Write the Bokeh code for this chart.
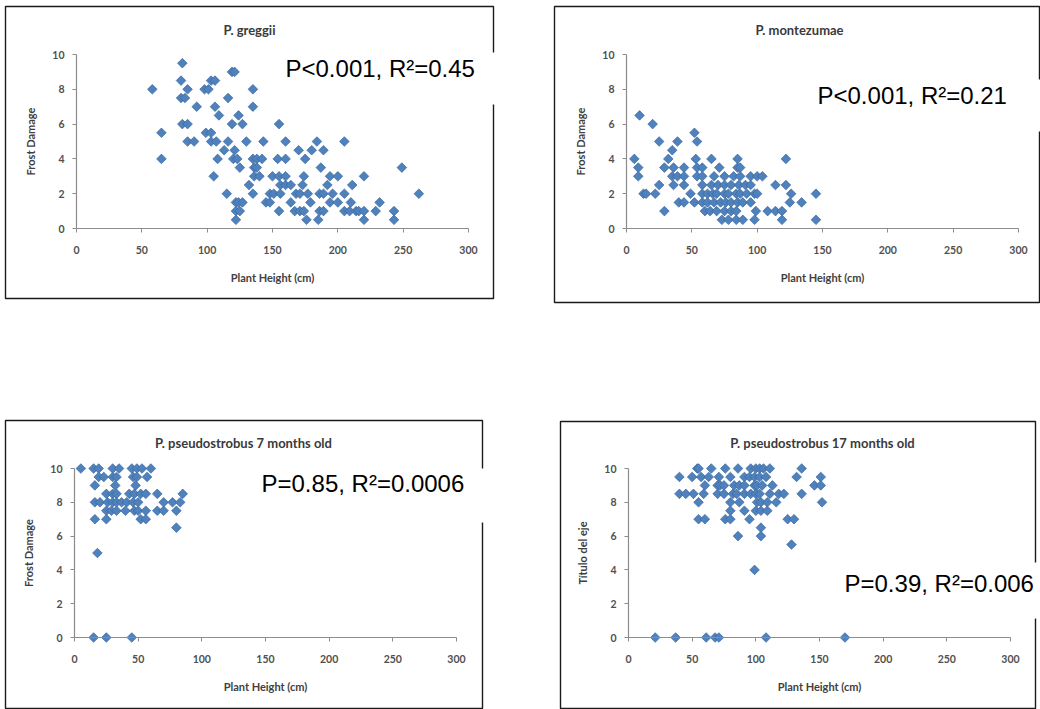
from bokeh.plotting import figure
from bokeh.models import Range1d, FixedTicker, Label, BoxAnnotation, ColumnDataSource
from bokeh.layouts import column, row
from bokeh.embed import file_html
from bokeh.resources import INLINE

# ---------------- data (plant height cm, frost damage) ----------------
greggii = [
    (58, 8), (65, 5.5), (65, 4), (81, 9.5), (80, 8.5), (80, 7.5), (83, 7.5), (85, 8), (81, 6), (85, 6),
    (85, 5), (90, 5), (92, 7), (98, 8), (101, 8), (103, 8.5), (106, 8.5), (99, 5.5), (103, 5.5), (103, 5),
    (107, 5), (106, 7), (109, 6.5), (108, 4), (105, 3), (116, 7.5), (119, 9), (121, 9), (119, 6), (116, 5),
    (113, 4.5), (120, 4), (121, 4.5), (115, 2), (124, 6.5), (127, 6), (130, 5), (123, 4), (125, 3.5), (122, 1.5),
    (124, 1.5), (122, 1), (125, 1), (122, 0.5), (127, 1.5), (135, 8), (135, 7), (132, 2.5), (135, 2), (135, 4),
    (138, 4), (142, 4), (136, 3.5), (138, 3.5), (136, 3), (140, 3), (143, 5), (145, 1.5), (148, 1.5), (148, 2),
    (151, 2), (150, 3), (155, 3), (155, 6), (154, 4), (160, 4), (156, 2.5), (160, 2.5), (160, 3), (156, 2),
    (155, 1), (160, 5), (164, 2.5), (164, 1.5), (167, 1), (171, 1), (170, 4.5), (168, 2), (171, 2), (173, 2.5),
    (174, 3), (175, 4), (174, 1), (176, 0.5), (177, 2), (179, 1.5), (180, 4.5), (184, 5), (186, 2), (185, 0.5),
    (187, 3.5), (186, 1), (189, 1), (189, 4.5), (189, 2), (192, 2.5), (194, 1.5), (194, 3), (200, 3), (196, 2),
    (200, 1.5), (205, 5), (205, 2), (205, 1), (209, 1), (211, 2.5), (210, 1.5), (214, 1), (216, 1), (220, 3),
    (220, 1), (220, 0.5), (229, 1), (232, 1.5), (243, 1), (243, 0.5), (249, 3.5), (262, 2),
]

montezumae = [
    (10, 6.5), (20, 6), (52, 5.5), (25, 5), (39, 5), (54, 5), (35, 4.5),
    (6, 4), (32, 4), (53, 4), (65, 4), (85, 4), (122, 4),
    (9, 3.5), (29, 3.5), (36, 3.5), (44, 3.5), (54, 3.5), (58, 3.5), (71, 3.5), (85, 3.5), (87, 3.5),
    (9, 3), (35, 3), (39, 3), (44, 3), (54, 3), (58, 3), (67, 3), (75, 3), (82, 3), (87, 3), (95, 3), (100, 3), (104, 3),
    (25, 2.5), (36, 2.5), (44, 2.5), (58, 2.5), (65, 2.5), (70, 2.5), (75, 2.5), (80, 2.5), (86, 2.5), (91, 2.5),
    (95, 2.5), (114, 2.5), (122, 2.5),
    (13, 2), (15, 2), (22, 2), (49, 2), (58, 2), (62, 2), (66, 2), (69, 2), (75, 2), (78, 2), (84, 2), (87, 2),
    (92, 2), (98, 2), (100, 2), (126, 2), (145, 2),
    (40, 1.5), (44, 1.5), (52, 1.5), (58, 1.5), (62, 1.5), (67, 1.5), (72, 1.5), (76, 1.5), (80, 1.5), (85, 1.5),
    (89, 1.5), (95, 1.5), (125, 1.5), (134, 1.5),
    (29, 1), (60, 1), (64, 1), (69, 1), (75, 1), (80, 1), (84, 1), (99, 1), (108, 1), (114, 1), (119, 1),
    (73, 0.5), (78, 0.5), (84, 0.5), (89, 0.5), (98, 0.5), (119, 0.5), (145, 0.5),
]

pseudo7 = [
    (5, 10), (15, 10), (19, 10), (30, 10), (35, 10), (45, 10), (49, 10), (53, 10), (60, 10),
    (19, 9.5), (23, 9.5), (30, 9.5), (33, 9.5), (46, 9.5), (49, 9.5), (57, 9.5),
    (16, 9), (32, 9), (48, 9),
    (25, 8.5), (30, 8.5), (33, 8.5), (43, 8.5), (47, 8.5), (52, 8.5), (56, 8.5), (65, 8.5), (85, 8.5),
    (16, 8), (20, 8), (26, 8), (30, 8), (33, 8), (37, 8), (41, 8), (46, 8), (50, 8), (70, 8), (77, 8), (83, 8),
    (25, 7.5), (29, 7.5), (33, 7.5), (40, 7.5), (47, 7.5), (50, 7.5), (56, 7.5), (65, 7.5), (70, 7.5), (80, 7.5),
    (16, 7), (25, 7), (52, 7), (56, 7),
    (80, 6.5), (18, 5),
    (15, 0), (25, 0), (45, 0),
]

pseudo17 = [
    (54, 10), (55, 10), (65, 10), (76, 10), (86, 10), (96, 10), (100, 10), (103, 10), (106, 10), (111, 10), (136, 10),
    (40, 9.5), (50, 9.5), (57, 9.5), (63, 9.5), (71, 9.5), (80, 9.5), (91, 9.5), (95, 9.5), (99, 9.5), (103, 9.5),
    (108, 9.5), (132, 9.5), (151, 9.5),
    (60, 9), (70, 9), (72, 9), (75, 9), (83, 9), (87, 9), (91, 9), (99, 9), (101, 9), (105, 9), (113, 9), (146, 9), (151, 9),
    (40, 8.5), (45, 8.5), (51, 8.5), (59, 8.5), (70, 8.5), (75, 8.5), (82, 8.5), (85, 8.5), (91, 8.5), (96, 8.5),
    (100, 8.5), (103, 8.5), (111, 8.5), (118, 8.5), (122, 8.5), (136, 8.5),
    (55, 8), (80, 8), (87, 8), (101, 8), (104, 8), (109, 8), (116, 8), (152, 8),
    (80, 7.5), (91, 7.5), (100, 7.5), (104, 7.5), (109, 7.5),
    (55, 7), (60, 7), (76, 7), (80, 7), (95, 7), (125, 7), (130, 7),
    (104, 6.5), (86, 6), (104, 6), (128, 5.5), (99, 4),
    (21, 0), (37, 0), (61, 0), (68, 0), (71, 0), (108, 0), (170, 0),
]

titles = ["P. greggii", "P. montezumae", "P. pseudostrobus 7 months old", "P. pseudostrobus 17 months old"]
y_titles = ["Frost Damage", "Frost Damage", "Frost Damage", "T\u00edtulo del eje"]
x_title = "Plant Height (cm)"
stats = ["P<0.001, R\u00b2=0.45", "P<0.001, R\u00b2=0.21", "P=0.85, R\u00b2=0.0006", "P=0.39, R\u00b2=0.006"]
x_ticks = [0, 50, 100, 150, 200, 250, 300]
y_ticks = [0, 2, 4, 6, 8, 10]

# ---------------- layout geometry (pixels, canvas coordinates) ----------------
geo = [
    dict(w=520, h=330, xa=76, xb=468, ya=54, yb=228, box=(5, 6, 493, 298), tt=(249, 29),
         wb=(280, 52, 520, 104), st=(285, 68)),
    dict(w=520, h=330, xa=106, xb=498, ya=54, yb=228, box=(34, 6, 519, 302), tt=(279, 29),
         wb=(290, 79, 520, 131), st=(297, 95)),
    dict(w=520, h=379, xa=74, xb=456, ya=138, yb=307, box=(5, 90, 482, 378), tt=(243, 112),
         wb=(255, 138, 520, 192), st=(261, 153)),
    dict(w=520, h=379, xa=108, xb=490, ya=138, yb=307, box=(40, 91, 515, 378), tt=(302, 112),
         wb=(318, 232, 520, 288), st=(324, 253)),
]

MARK = "#4F81BD"
EDGE = "#3A679E"
AX = "#8C8C8C"
TXT = "#404040"
FONT = "Lato"


def canvas_box(l, t, r, b, **kw):
    return BoxAnnotation(left=l, right=r, top=t, bottom=b,
                         left_units="canvas", right_units="canvas",
                         top_units="canvas", bottom_units="canvas", **kw)


def panel(data, i):
    g = geo[i]
    W, H = g["w"], g["h"]
    sx = (g["xb"] - g["xa"]) / 300.0
    sy = (g["yb"] - g["ya"]) / 10.0
    # the frame fills the whole canvas; ranges chosen so the data land at the chart's pixel positions
    x0 = -g["xa"] / sx
    x1 = (W - g["xa"]) / sx
    y1 = g["yb"] / sy
    y0 = (g["yb"] - H) / sy
    p = figure(width=W, height=H, output_backend="svg", toolbar_location=None,
               x_range=Range1d(x0, x1), y_range=Range1d(y0, y1),
               min_border_left=0, min_border_right=0, min_border_top=0, min_border_bottom=0)
    p.outline_line_color = None
    p.xgrid.visible = False
    p.ygrid.visible = False
    p.background_fill_color = "white"
    p.border_fill_color = "white"

    # chart border (drawn first, under everything)
    l, t, r, b = g["box"]
    p.add_layout(canvas_box(l, t, r, b, fill_alpha=0, line_color="#1A1A1A", line_alpha=1, line_width=1.4))

    for ax, ticks, bounds in ((p.xaxis[0], x_ticks, (0, 300)), (p.yaxis[0], y_ticks, (0, 10))):
        ax.ticker = FixedTicker(ticks=ticks)
        ax.fixed_location = 0
        ax.bounds = bounds
        ax.axis_line_color = AX
        ax.axis_line_width = 1.2
        ax.major_tick_line_color = AX
        ax.major_tick_out = 4
        ax.major_tick_in = 0
        ax.minor_tick_line_color = None
        ax.major_label_text_font = FONT
        ax.major_label_text_font_size = "10.5px"
        ax.major_label_text_font_style = "bold"
        ax.major_label_text_color = "#505050"
        ax.axis_label_text_font = FONT
        ax.axis_label_text_font_size = "11px"
        ax.axis_label_text_font_style = "bold"
        ax.axis_label_text_color = TXT
    p.xaxis[0].axis_label = x_title
    p.yaxis[0].axis_label = y_titles[i]
    p.xaxis[0].major_label_standoff = 13
    p.yaxis[0].major_label_standoff = 8
    p.xaxis[0].axis_label_standoff = 14
    p.yaxis[0].axis_label_standoff = 12

    src = ColumnDataSource(dict(x=[d[0] for d in data], y=[d[1] for d in data]))
    p.scatter("x", "y", source=src, marker="square", angle=0.785398, size=6.8,
              fill_color=MARK, line_color=EDGE, line_width=0.7)

    l, t, r, b = g["wb"]
    p.add_layout(canvas_box(l, t, r, b, fill_color="white", fill_alpha=1, line_alpha=0))
    p.add_layout(Label(x=g["tt"][0], y=g["tt"][1], x_units="canvas", y_units="canvas",
                       text=titles[i], text_align="center", text_baseline="middle",
                       text_font=FONT, text_font_size="13px", text_font_style="bold",
                       text_color="#3A3A3A"))
    p.add_layout(Label(x=g["st"][0], y=g["st"][1], x_units="canvas", y_units="canvas",
                       text=stats[i], text_align="left", text_baseline="middle",
                       text_font="Liberation Sans", text_font_size="24px", text_color="black"))
    return p


p1 = panel(greggii, 0)
p2 = panel(montezumae, 1)
p3 = panel(pseudo7, 2)
p4 = panel(pseudo17, 3)

layout = column(row(p1, p2, spacing=0), row(p3, p4, spacing=0), spacing=0)
open("out.html", "w").write(file_html(layout, INLINE))
